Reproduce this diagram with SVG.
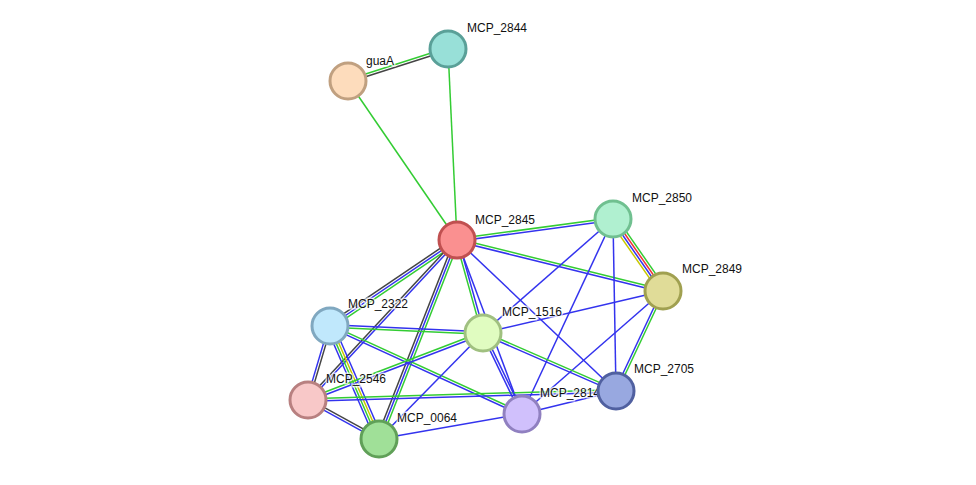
<svg xmlns="http://www.w3.org/2000/svg" width="976" height="485" viewBox="0 0 976 485">
<style>
line{stroke-width:1.5;fill:none}
.g{stroke:#33cc33}.b{stroke:#3333ee}.k{stroke:#444}.r{stroke:#ee3333}.y{stroke:#c8c800}
circle{stroke-width:3}
text{font-family:"Liberation Sans",Arial,sans-serif;font-size:12px;fill:#111;paint-order:stroke;stroke:#fff;stroke-width:3px;stroke-opacity:0.7}
</style>
<rect width="976" height="485" fill="#fff"/>
<g id="edges">
<line class="g" x1="348" y1="81" x2="448" y2="49" transform="translate(-0.4,-1.2)"/>
<line class="k" x1="348" y1="81" x2="448" y2="49" transform="translate(0.4,1.2)"/>
<line class="g" x1="348" y1="81" x2="457" y2="240"/>
<line class="g" x1="448" y1="49" x2="457" y2="240"/>
<line class="g" x1="457" y1="240" x2="613" y2="219" transform="translate(-0.16,-1.24)"/>
<line class="b" x1="457" y1="240" x2="613" y2="219" transform="translate(0.16,1.24)"/>
<line class="g" x1="457" y1="240" x2="663" y2="291" transform="translate(0.3,-1.2)"/>
<line class="b" x1="457" y1="240" x2="663" y2="291" transform="translate(-0.3,1.2)"/>
<line class="g" x1="457" y1="240" x2="330" y2="326" transform="translate(1.4,2.1)"/>
<line class="b" x1="457" y1="240" x2="330" y2="326"/>
<line class="k" x1="457" y1="240" x2="330" y2="326" transform="translate(-1.4,-2.1)"/>
<line class="b" x1="457" y1="240" x2="308" y2="400" transform="translate(0.9,0.85)"/>
<line class="k" x1="457" y1="240" x2="308" y2="400" transform="translate(-0.9,-0.85)"/>
<line class="g" x1="457" y1="240" x2="379" y2="439" transform="translate(2.3,0.9)"/>
<line class="b" x1="457" y1="240" x2="379" y2="439"/>
<line class="k" x1="457" y1="240" x2="379" y2="439" transform="translate(-2.3,-0.9)"/>
<line class="g" x1="457" y1="240" x2="483" y2="333" transform="translate(-1.2,0.34)"/>
<line class="b" x1="457" y1="240" x2="483" y2="333" transform="translate(1.2,-0.34)"/>
<line class="b" x1="457" y1="240" x2="522" y2="414"/>
<line class="b" x1="457" y1="240" x2="616" y2="391"/>
<line class="g" x1="613" y1="219" x2="663" y2="291" transform="translate(3.1,-2.1)"/>
<line class="r" x1="613" y1="219" x2="663" y2="291" transform="translate(1,-0.7)"/>
<line class="b" x1="613" y1="219" x2="663" y2="291" transform="translate(-1,0.7)"/>
<line class="y" x1="613" y1="219" x2="663" y2="291" transform="translate(-3.1,2.1)"/>
<line class="b" x1="613" y1="219" x2="483" y2="333"/>
<line class="b" x1="613" y1="219" x2="522" y2="414"/>
<line class="b" x1="613" y1="219" x2="616" y2="391"/>
<line class="b" x1="663" y1="291" x2="483" y2="333"/>
<line class="b" x1="663" y1="291" x2="522" y2="414"/>
<line class="g" x1="663" y1="291" x2="616" y2="391" transform="translate(1.1,0.5)"/>
<line class="b" x1="663" y1="291" x2="616" y2="391" transform="translate(-1.1,-0.5)"/>
<line class="b" x1="330" y1="326" x2="483" y2="333" transform="translate(0.06,-1.25)"/>
<line class="g" x1="330" y1="326" x2="483" y2="333" transform="translate(-0.06,1.25)"/>
<line class="k" x1="330" y1="326" x2="308" y2="400" transform="translate(1.2,0.36)"/>
<line class="b" x1="330" y1="326" x2="308" y2="400" transform="translate(-1.2,-0.36)"/>
<line class="b" x1="330" y1="326" x2="379" y2="439" transform="translate(-3.4,1.5)"/>
<line class="g" x1="330" y1="326" x2="379" y2="439" transform="translate(-1.15,0.5)"/>
<line class="y" x1="330" y1="326" x2="379" y2="439" transform="translate(1.15,-0.5)"/>
<line class="b" x1="330" y1="326" x2="379" y2="439" transform="translate(3.4,-1.5)"/>
<line class="g" x1="330" y1="326" x2="522" y2="414" transform="translate(0.5,-1.1)"/>
<line class="b" x1="330" y1="326" x2="522" y2="414" transform="translate(-0.5,1.1)"/>
<line class="g" x1="308" y1="400" x2="483" y2="333" transform="translate(-0.45,-1.2)"/>
<line class="b" x1="308" y1="400" x2="483" y2="333" transform="translate(0.45,1.2)"/>
<line class="g" x1="308" y1="400" x2="616" y2="391" transform="translate(0,-1.25)"/>
<line class="b" x1="308" y1="400" x2="616" y2="391" transform="translate(0,1.25)"/>
<line class="k" x1="308" y1="400" x2="379" y2="439" transform="translate(0.6,-1.1)"/>
<line class="b" x1="308" y1="400" x2="379" y2="439" transform="translate(-0.6,1.1)"/>
<line class="b" x1="379" y1="439" x2="483" y2="333"/>
<line class="b" x1="379" y1="439" x2="522" y2="414"/>
<line class="b" x1="483" y1="333" x2="522" y2="414" transform="translate(-1.1,0.55)"/>
<line class="b" x1="483" y1="333" x2="522" y2="414" transform="translate(1.1,-0.55)"/>
<line class="g" x1="483" y1="333" x2="616" y2="391" transform="translate(0.5,-1.15)"/>
<line class="b" x1="483" y1="333" x2="616" y2="391" transform="translate(-0.5,1.15)"/>
<line class="b" x1="522" y1="414" x2="616" y2="391"/>
</g>
<g id="guaA"><circle cx="348" cy="81" r="18" fill="#fddcbc" stroke="#c0a080"/><text x="366" y="65">guaA</text></g>
<g id="MCP_2844"><circle cx="448" cy="49" r="18" fill="#98e0d8" stroke="#5aa098"/><text x="467" y="32">MCP_2844</text></g>
<g id="MCP_2845"><circle cx="457" cy="240" r="18" fill="#fa9090" stroke="#c05050"/><text x="475" y="224">MCP_2845</text></g>
<g id="MCP_2850"><circle cx="613" cy="219" r="18" fill="#b0f0d0" stroke="#70c090"/><text x="632" y="202">MCP_2850</text></g>
<g id="MCP_2849"><circle cx="663" cy="291" r="18" fill="#e0dc98" stroke="#a0a050"/><text x="682" y="273">MCP_2849</text></g>
<g id="MCP_2322"><circle cx="330" cy="326" r="18" fill="#c0e8fc" stroke="#80a8c0"/><text x="348" y="308">MCP_2322</text></g>
<g id="MCP_1516"><circle cx="483" cy="333" r="18" fill="#e0fcc0" stroke="#a0c080"/><text x="502" y="316">MCP_1516</text></g>
<g id="MCP_2546"><circle cx="308" cy="400" r="18" fill="#f8c8c8" stroke="#b88080"/><text x="326" y="383">MCP_2546</text></g>
<g id="MCP_0064"><circle cx="379" cy="439" r="18" fill="#a0e098" stroke="#60a058"/><text x="397" y="422">MCP_0064</text></g>
<g id="MCP_2814"><circle cx="522" cy="414" r="18" fill="#d0c0fc" stroke="#9080c0"/><text x="540" y="397">MCP_2814</text></g>
<g id="MCP_2705"><circle cx="616" cy="391" r="18" fill="#98a8e0" stroke="#5060a0"/><text x="634" y="373">MCP_2705</text></g>
</svg>
